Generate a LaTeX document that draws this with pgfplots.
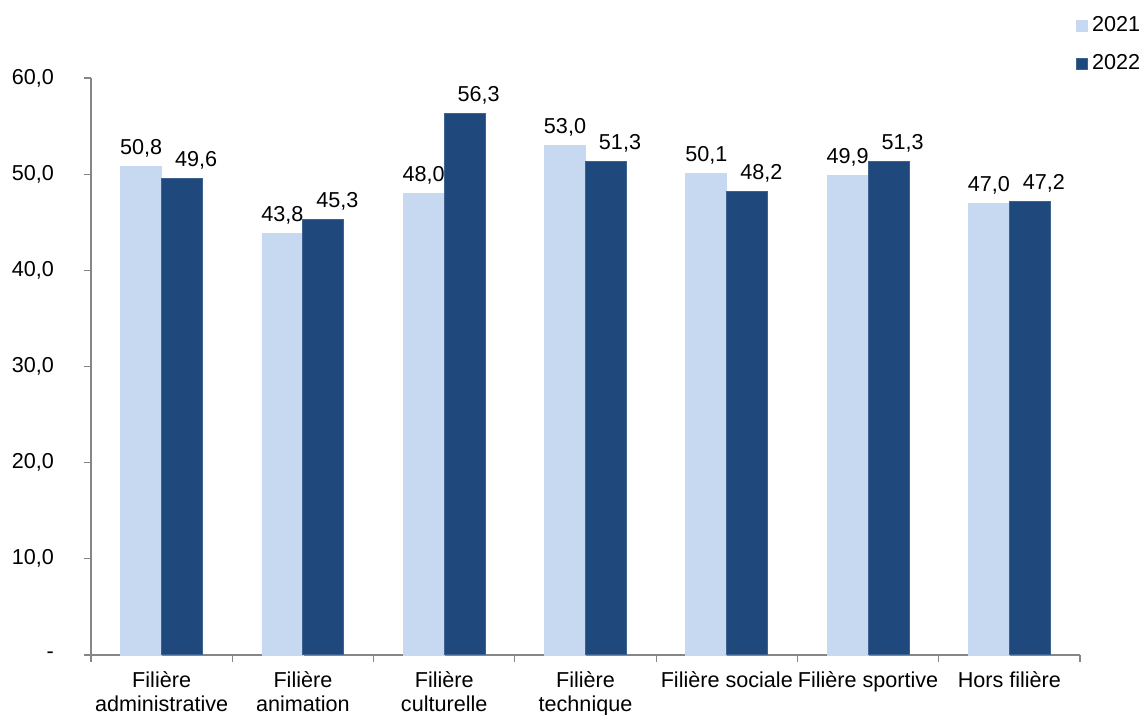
\documentclass[border=0pt]{standalone}
\usepackage{pgfplots}
\pgfplotsset{compat=1.18}
\usepackage{fontspec}
\setmainfont{Liberation Sans}
\definecolor{light}{HTML}{C6D9F1}
\definecolor{dark}{HTML}{1F497D}
\definecolor{darkedge}{HTML}{3F6391}
\definecolor{axisgray}{HTML}{868686}
\begin{document}
\begin{tikzpicture}
\path[use as bounding box] (-45.5pt,-30pt) rectangle (526pt,327.5pt);
\begin{axis}[
  scale only axis,
  width=494.5pt, height=288.5pt,
  font=\fontsize{10.8pt}{12pt}\selectfont,
  ybar=0pt, bar width=20.5pt,
  xmin=-0.5, xmax=6.5,
  ymin=0, ymax=60,
  axis x line*=bottom, axis y line*=left,
  axis line style={axisgray, line width=0.6pt},
  xtick={0,...,6},
  xticklabels={{Filière\\administrative},{Filière\\animation},{Filière\\culturelle},{Filière\\technique},{Filière sociale},{Filière sportive},{Hors filière}},
  xticklabel style={align=center, yshift=-1.5pt},
  x tick label style={font=\fontsize{10.8pt}{12pt}\selectfont},
  major x tick style={draw=none},
  minor xtick={-0.5,0.5,...,6.5},
  minor x tick style={axisgray, line width=0.6pt},
  minor tick length=3.5pt,
  ytick={0,10,...,60},
  yticklabels={-,{10,0},{20,0},{30,0},{40,0},{50,0},{60,0}},
  major y tick style={axisgray, line width=0.6pt},
  major tick length=3.5pt,
  tick align=outside,
  yticklabel style={xshift=-11.5pt, font=\fontsize{10.8pt}{12pt}\selectfont},
  /pgf/number format/assume math mode=true,
  /pgf/number format/fixed,
  /pgf/number format/fixed zerofill,
  /pgf/number format/precision=1,
  /pgf/number format/use comma,
  nodes near coords,
  nodes near coords style={font=\fontsize{10.8pt}{12pt}\selectfont, yshift=1pt},
  legend style={draw=none, fill=none, at={(rel axis cs:0.9895,1.121)}, anchor=north west, row sep=6pt, font=\fontsize{10.8pt}{12pt}\selectfont},
  legend cell align=left,
  legend image code/.code={\fill[#1] (0pt,-2.75pt) rectangle (5.5pt,2.75pt);},
  clip=false,
]
\addplot[fill=light, draw=light] coordinates {(0,50.8) (1,43.8) (2,48.0) (3,53.0) (4,50.1) (5,49.9) (6,47.0)};
\addplot[fill=dark, draw=darkedge, line width=0.5pt, nodes near coords style={xshift=7pt}] coordinates {(0,49.6) (1,45.3) (2,56.3) (3,51.3) (4,48.2) (5,51.3) (6,47.2)};
\legend{2021,2022}
\end{axis}
\end{tikzpicture}
\end{document}
